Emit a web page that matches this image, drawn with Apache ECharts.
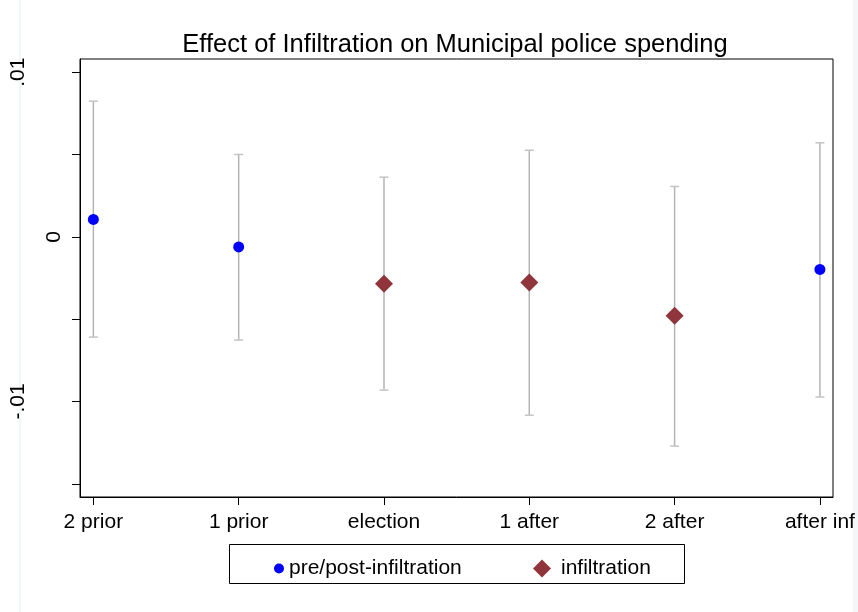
<!DOCTYPE html>
<html><head><meta charset="utf-8">
<script src="https://cdn.jsdelivr.net/npm/echarts@6/dist/echarts.min.js"></script>
<style>html,body{margin:0;padding:0;background:#fff}#c{width:858px;height:612px}</style>
</head><body><div id="c"></div>
<script>
const categories = ['2 prior','1 prior','election','1 after','2 after','after inf'];
const estimates = [0.00106, -0.00061, -0.00285, -0.00277, -0.00480, -0.00198];
const ciLower = [-0.00609, -0.00627, -0.00931, -0.01083, -0.01271, -0.00973];
const ciUpper = [0.00824, 0.00500, 0.00362, 0.00526, 0.00306, 0.00571];
const groups = ['pre','pre','inf','inf','inf','pre'];
const yTicks = [-0.015, -0.01, -0.005, 0, 0.005, 0.01];
const yLabels = [-0.01, 0, 0.01];
const yLabelText = {'-0.01':'-.01','0':'0','0.01':'.01'};

const FONT = '"Liberation Sans", Arial, sans-serif';
const preData = [], infData = [], ciData = [];
categories.forEach((c,i)=>{
  ciData.push([i, ciLower[i], ciUpper[i]]);
  if (groups[i]==='pre') preData.push([i, estimates[i]]); else infData.push([i, estimates[i]]);
});

const chart = echarts.init(document.getElementById('c'), null, {renderer:'canvas'});
chart.setOption({
  animation:false,
  backgroundColor:'#fff',
  textStyle:{fontFamily:FONT},
  title:{text:'Effect of Infiltration on Municipal police spending', left:450, textAlign:'center', top:27,
    textStyle:{fontFamily:FONT, fontSize:25.5, fontWeight:'normal', color:'#000'}},
  grid:{left:80, right:25, top:59, bottom:115, show:true, borderColor:'#000', borderWidth:1, backgroundColor:'#fff'},
  xAxis:{type:'value', min:-0.092, max:5.09,
    axisLine:{show:true, onZero:false, lineStyle:{color:'#000', width:1}},
    splitLine:{show:false},
    axisTick:{show:true, length:8, customValues:[0,1,2,3,4,5], lineStyle:{color:'#000'}},
    axisLabel:{customValues:[0,1,2,3,4,5], margin:15, fontSize:21, color:'#000', fontFamily:FONT,
      formatter:v=>categories[Math.round(v)]}},
  yAxis:{type:'value', min:-0.0158, max:0.0108,
    axisLine:{show:true, onZero:false, lineStyle:{color:'#000', width:1}},
    splitLine:{show:false},
    axisTick:{show:true, length:8, customValues:yTicks, lineStyle:{color:'#000'}},
    axisLabel:{customValues:yLabels, rotate:90, margin:15, fontSize:21, color:'#000', fontFamily:FONT,
      formatter:v=>{
        const t = yLabelText[String(Math.round(v*100)/100)] ?? String(v);
        return t === '0' ? '{near|0}' : '{far|' + t + '}';
      },
      rich:{
        near:{fontSize:21, fontFamily:FONT, color:'#000'},
        far:{fontSize:21, fontFamily:FONT, color:'#000', padding:[0,0,36,0]}
      }}},
  legend:[
    {data:[{name:'pre/post-infiltration', icon:'circle'}], left:269, top:553, itemWidth:10, itemHeight:10,
      textStyle:{fontSize:21, color:'#000', fontFamily:FONT}},
    {data:[{name:'infiltration', icon:'diamond'}], left:528, top:553, itemWidth:18, itemHeight:18,
      textStyle:{fontSize:21, color:'#000', fontFamily:FONT, padding:[0,0,0,5]}}
  ],
  graphic:[
    {type:'rect', shape:{x:229.5, y:544.5, width:455, height:39}, style:{fill:'none', stroke:'#000', lineWidth:1}, z:-1},
    {type:'rect', shape:{x:853, y:0, width:5, height:612}, style:{fill:'#f4f6f8'}, silent:true},
    {type:'line', shape:{x1:20, y1:0, x2:20, y2:612}, style:{stroke:'#e8eef0', lineWidth:1}, silent:true, z:-10}
  ],
  series:[
    {type:'custom', name:'ci', data:ciData, z:1,
      renderItem:(params, api)=>{
        const x = api.value(0);
        const lo = api.coord([x, api.value(1)]);
        const hi = api.coord([x, api.value(2)]);
        const w = 4.5;
        return {type:'group', children:[
          {type:'line', shape:{x1:lo[0], y1:lo[1], x2:hi[0], y2:hi[1]}, style:{stroke:'#b4b4b4', lineWidth:1.5}},
          {type:'line', shape:{x1:lo[0]-w, y1:lo[1], x2:lo[0]+w, y2:lo[1]}, style:{stroke:'#c4c4c4', lineWidth:1.5}},
          {type:'line', shape:{x1:hi[0]-w, y1:hi[1], x2:hi[0]+w, y2:hi[1]}, style:{stroke:'#c4c4c4', lineWidth:1.5}}
        ]};
      }},
    {type:'scatter', name:'pre/post-infiltration', data:preData, symbol:'circle', symbolSize:11, z:3,
      itemStyle:{color:'#0000ff', opacity:1}},
    {type:'scatter', name:'infiltration', data:infData, symbol:'diamond', symbolSize:18, z:3,
      itemStyle:{color:'#8f353b', opacity:1}}
  ]
});
</script></body></html>
